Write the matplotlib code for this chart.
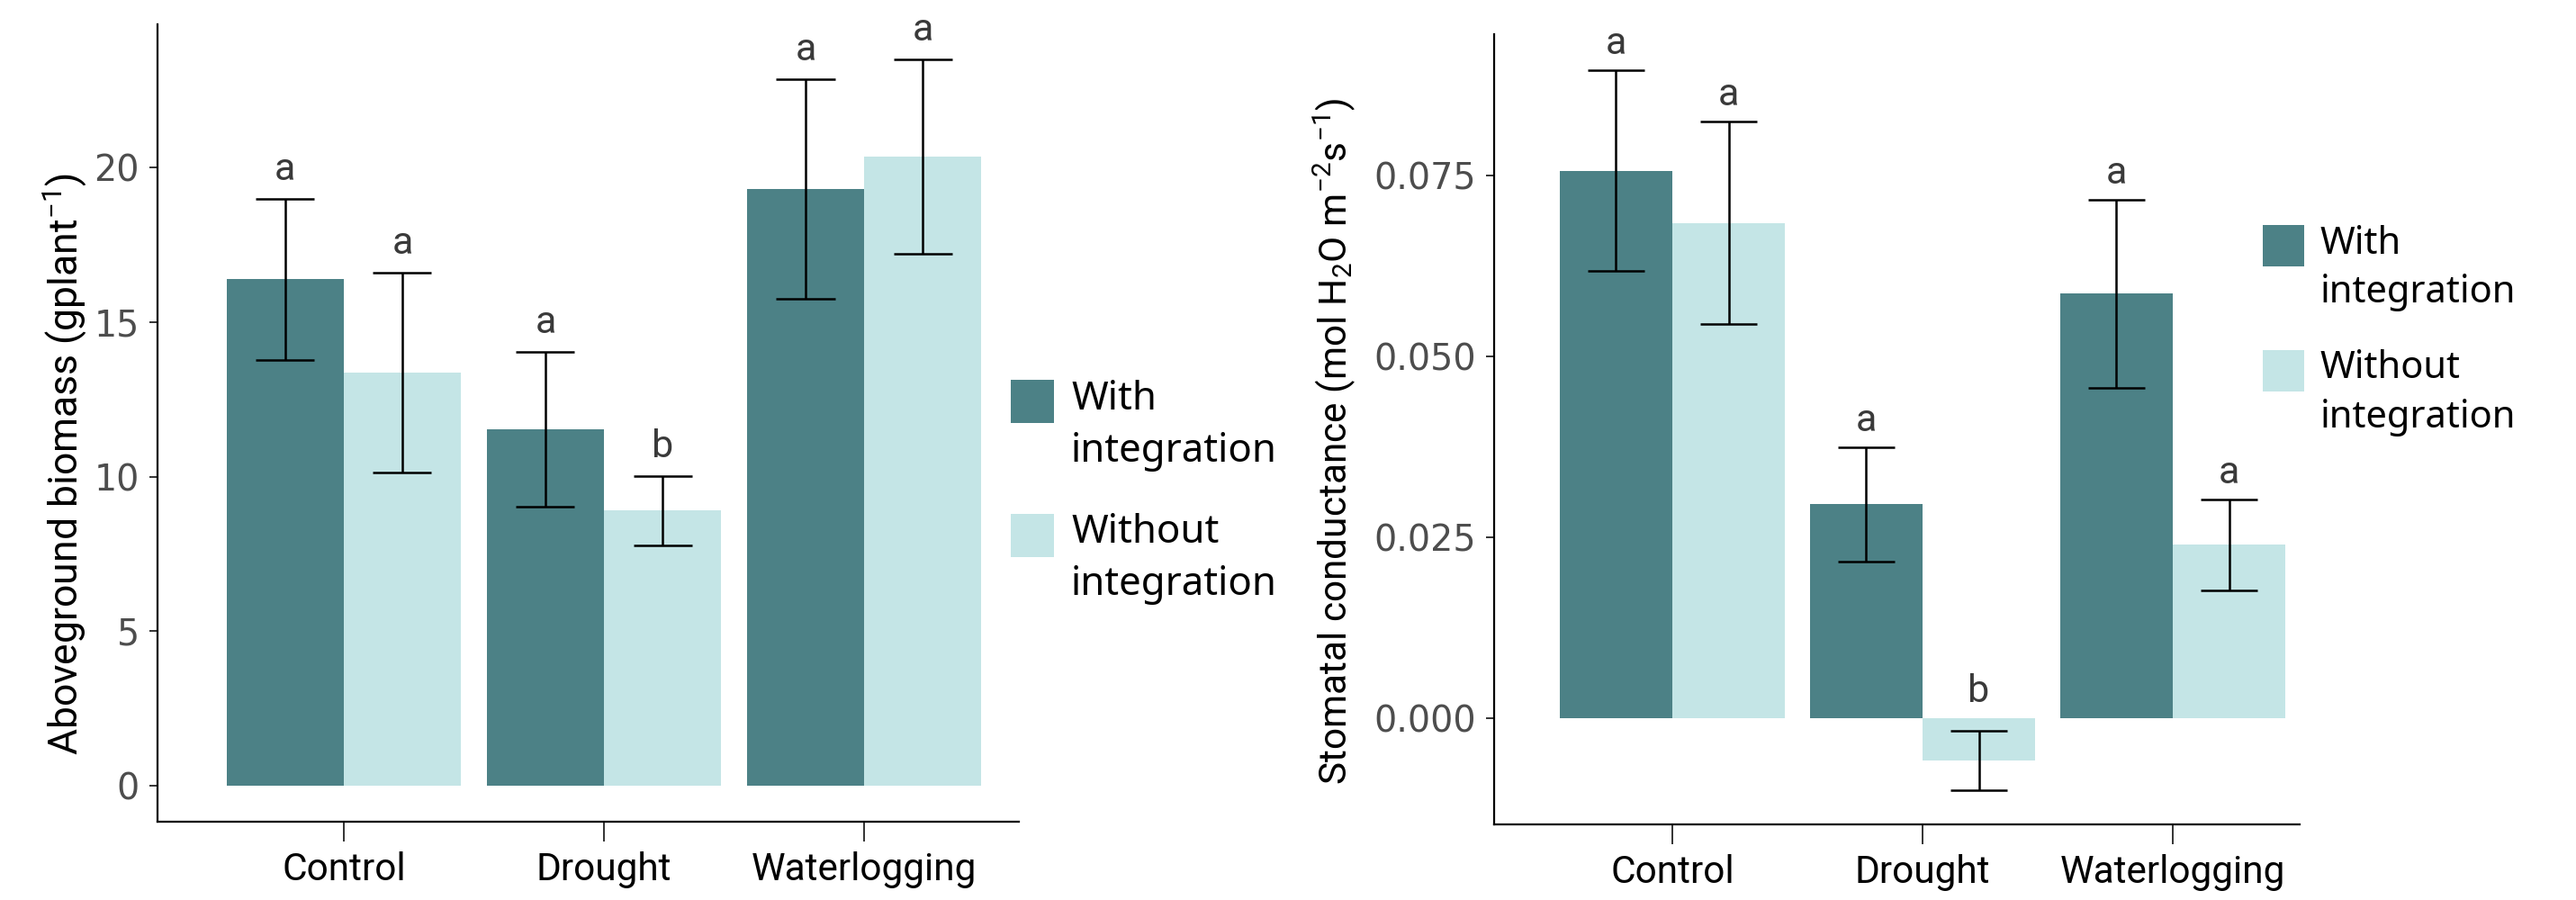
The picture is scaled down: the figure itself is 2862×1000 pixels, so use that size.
import matplotlib
matplotlib.use("Agg")
import matplotlib.pyplot as plt
from matplotlib.patches import Rectangle
import numpy as np

# ---------------- data ----------------
categories = ["Control", "Drought", "Waterlogging"]
groups = ["With\nintegration", "Without\nintegration"]

biomass_with = [16.38, 11.53, 19.30]
biomass_with_se = [2.61, 2.51, 3.54]
biomass_without = [13.36, 8.91, 20.35]
biomass_without_se = [3.23, 1.12, 3.14]
biomass_letters_with = ["a", "a", "a"]
biomass_letters_without = ["a", "b", "a"]
biomass_ticks = [0, 5, 10, 15, 20]

gs_with = [0.0757, 0.0296, 0.0587]
gs_with_se = [0.0139, 0.0079, 0.0130]
gs_without = [0.0685, -0.0059, 0.0240]
gs_without_se = [0.0140, 0.0041, 0.0063]
gs_letters_with = ["a", "a", "a"]
gs_letters_without = ["a", "b", "a"]
gs_ticks = [0.000, 0.025, 0.050, 0.075]

# ---------------- style ----------------
W, H = 2862, 1000
DARK = "#4C8186"
LIGHT = "#C4E5E6"
plt.rcParams["font.family"] = ["Roboto", "DejaVu Sans"]
plt.rcParams["mathtext.fontset"] = "custom"
plt.rcParams["mathtext.rm"] = "Roboto"
plt.rcParams["mathtext.it"] = "Roboto:italic"
plt.rcParams["mathtext.bf"] = "Roboto:bold"

fig = plt.figure(figsize=(W / 100, H / 100), dpi=100)
fig.patch.set_facecolor("white")


def fx(x):
    return x / W


def fy(y):
    return 1 - y / H


def make_axes(l, t, r, b):
    return fig.add_axes([fx(l), fy(b), fx(r) - fx(l), fy(t) - fy(b)])


def draw_panel(ax, w, wse, wo, wose, lw_, lwo, ticks, ylim, xlim, fmt, letter_off):
    x = np.arange(1, len(categories) + 1)
    bw = 0.45
    ax.bar(x - bw / 2, w, width=bw, color=DARK, linewidth=0, zorder=2)
    ax.bar(x + bw / 2, wo, width=bw, color=LIGHT, linewidth=0, zorder=2)
    for xs, m, se, lets in ((x - bw / 2, w, wse, lw_), (x + bw / 2, wo, wose, lwo)):
        m = np.asarray(m)
        se = np.asarray(se)
        ax.vlines(xs, m - se, m + se, color="black", linewidth=1.8, zorder=3)
        ax.hlines(m + se, xs - bw / 4, xs + bw / 4, color="black", linewidth=1.8, zorder=3)
        ax.hlines(m - se, xs - bw / 4, xs + bw / 4, color="black", linewidth=1.8, zorder=3)
        for xi, top, lt in zip(xs, m + se, lets):
            ax.annotate(lt, (xi, max(top, 0)), xytext=(0, letter_off),
                        textcoords="offset pixels", ha="center", va="baseline",
                        fontsize=31, color="#3A3A3A", family="Roboto")
    ax.set_xlim(*xlim)
    ax.set_ylim(*ylim)
    ax.set_xticks(x)
    ax.set_xticklabels(categories, fontsize=30.5, color="black", family="Roboto")
    ax.set_yticks(ticks)
    ax.set_yticklabels([fmt(t) for t in ticks], fontsize=28.5, color="#4D4D4D",
                       family="DejaVu Sans")
    for s in ("top", "right"):
        ax.spines[s].set_visible(False)
    for s in ("left", "bottom"):
        ax.spines[s].set_linewidth(1.6)
        ax.spines[s].set_color("black")
    ax.tick_params(axis="x", length=16, width=1.4, color="#333333", pad=8)
    ax.tick_params(axis="y", length=6.5, width=1.4, color="#333333", pad=8)
    ax.set_facecolor("white")


# left panel
ax1 = make_axes(175, 27, 1132, 913)
draw_panel(ax1, biomass_with, biomass_with_se, biomass_without, biomass_without_se,
           biomass_letters_with, biomass_letters_without, biomass_ticks,
           (-1.16, 24.63), (0.284, 3.595), lambda t: f"{t:g}", 21)

# right panel
ax2 = make_axes(1660, 38, 2555, 916)
draw_panel(ax2, gs_with, gs_with_se, gs_without, gs_without_se,
           gs_letters_with, gs_letters_without, gs_ticks,
           (-0.0147, 0.0946), (0.288, 3.507), lambda t: f"{t:.3f}", 18)

# y labels
fig.text(fx(72), fy(515), "Aboveground biomass (gplant$^{-1}$)", rotation=90,
         ha="center", va="center", fontsize=32, color="black")
fig.text(fx(1483), fy(490), "Stomatal conductance (mol H$_2$O m$^{-2}$s$^{-1}$)",
         rotation=90, ha="center", va="center", fontsize=30.5, color="black")


# legends (manual, ggplot-like)
def draw_legend(kx, ktops, ksize, tx, baselines, fsize):
    for col, top, lab, bls in zip((DARK, LIGHT), ktops, groups, baselines):
        fig.add_artist(Rectangle((fx(kx), fy(top + ksize)), ksize / W, ksize / H,
                                 transform=fig.transFigure, facecolor=col,
                                 edgecolor="none"))
        for line, bl in zip(lab.split("\n"), bls):
            fig.text(fx(tx), fy(bl), line, ha="left", va="baseline",
                     fontsize=fsize, color="black", family="Noto Sans")


draw_legend(1123, (422, 571), 48, 1190, ((455, 513), (603, 661)), 31.5)
draw_legend(2514, (250, 389), 46, 2578, ((282, 336), (420, 475)), 30)

fig.savefig("out.png", dpi=100, facecolor="white")
